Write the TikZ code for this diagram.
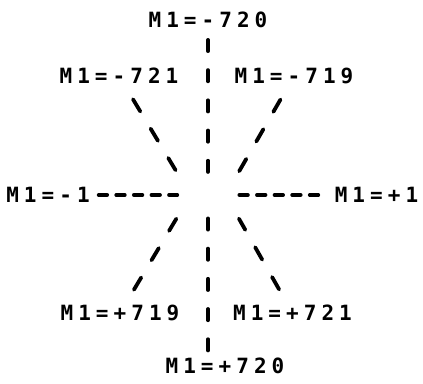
\documentclass[tikz,border=0pt]{standalone}
\usepackage{fontspec}
\newfontfamily\typewriter[LetterSpace=24]{DejaVu Sans Mono Bold}

\begin{document}
\begin{tikzpicture}[x=1pt, y=-1pt,
  mlabel/.style={inner sep=0pt, font=\typewriter\fontsize{21}{24}\selectfont},
  bars/.style={line width=3.8pt, line cap=round, dash pattern=on 11.2pt off 19pt},
  slants/.style={line width=3.8pt, line cap=round, dash pattern=on 14.2pt off 20.05pt,
    shorten <=27.15pt, shorten >=27.15pt},
  ticks/.style={line width=3.8pt, line cap=round, dash pattern=on 8.5pt off 9.1pt}]
  \fill[white] (0,0) rectangle (423,383);

  % Centre of the star
  \coordinate (hub) at (208,195);
  \coordinate (hubW) at (190.5,195);
  \coordinate (hubE) at (225.5,195);

  % Labels
  \node[mlabel] (minus720) at (208,19.5) {M1=-720};
  \node[mlabel] (minus721) at (119,76) {M1=-721};
  \node[mlabel] (minus719) at (294,76) {M1=-719};
  \node[mlabel] (minus1) at (48,195) {M1=-1};
  \node[mlabel] (plus1) at (376.5,195) {M1=+1};
  \node[mlabel] (plus719) at (120,313) {M1=+719};
  \node[mlabel] (plus721) at (292.5,313) {M1=+721};
  \node[mlabel] (plus720) at (225,366) {M1=+720};

  % Vertical
  \draw[bars, shorten <=20.4pt, shorten >=23.1pt] (hub |- minus720) -- (hub);
  \draw[bars, shorten <=23.4pt, shorten >=15.6pt] (hub) -- (hub |- plus720);

  % Diagonals
  \draw[slants] (minus721.center) -- (hubW);
  \draw[slants] (minus719.center) -- (hubE);
  \draw[slants] (plus719.center) -- (hubW);
  \draw[slants] (plus721.center) -- (hubE);

  % Horizontal
  \draw[ticks, shorten <=50.65pt, shorten >=30.75pt] (minus1.center) -- (hub);
  \draw[ticks, shorten <=58.25pt, shorten >=30.75pt] (plus1.center) -- (hub);
\end{tikzpicture}
\end{document}
